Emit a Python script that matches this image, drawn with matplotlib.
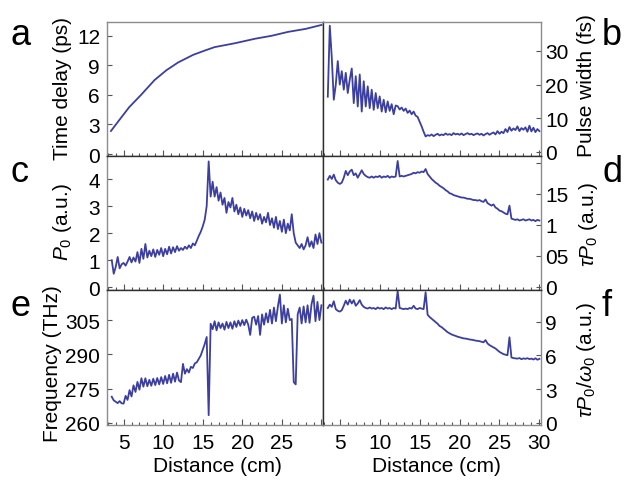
import matplotlib
matplotlib.use("Agg")
import matplotlib.pyplot as plt
from matplotlib.ticker import MultipleLocator

plt.rcParams['font.family'] = ['Liberation Sans', 'DejaVu Sans']
plt.rcParams['mathtext.fontset'] = 'custom'
plt.rcParams['mathtext.rm'] = 'Liberation Sans'
plt.rcParams['mathtext.it'] = 'Liberation Sans:italic'
plt.rcParams['mathtext.bf'] = 'Liberation Sans:bold'

# ---- data -------------------------------------------------------------
# panel a: accumulated time delay (smooth)
delay_dist = [3.4, 4.5, 5.7, 7.2, 8.9, 10.4, 11.9, 13.8, 15.25, 16.5,
              19.1, 21.6, 23.7, 25.8, 28.0, 30.0]
time_delay = [2.34, 3.5, 4.75, 6.0, 7.5, 8.5, 9.3, 10.07, 10.5, 10.85,
              11.25, 11.7, 12.0, 12.4, 12.7, 13.1]

# sampling positions (cm) shared by the measured traces
distance = [3.5, 3.75, 4.0, 4.25, 4.5, 4.75, 5.0, 5.25, 5.5, 5.75,
            6.0, 6.25, 6.5, 6.75, 7.0, 7.25, 7.5, 7.75, 8.0, 8.25,
            8.5, 8.75, 9.0, 9.25, 9.5, 9.75, 10.0, 10.25, 10.5, 10.75,
            11.0, 11.25, 11.5, 11.75, 12.0, 12.25, 12.5, 12.75, 13.0, 13.25,
            13.5, 13.75, 14.0, 14.25, 14.5, 14.75, 15.0, 15.25, 15.5, 15.75,
            16.0, 16.25, 16.5, 16.75, 17.0, 17.25, 17.5, 17.75, 18.0, 18.25,
            18.5, 18.75, 19.0, 19.25, 19.5, 19.75, 20.0, 20.25, 20.5, 20.75,
            21.0, 21.25, 21.5, 21.75, 22.0, 22.25, 22.5, 22.75, 23.0, 23.25,
            23.5, 23.75, 24.0, 24.25, 24.5, 24.75, 25.0, 25.25, 25.5, 25.75,
            26.0, 26.25, 26.5, 26.75, 27.0, 27.25, 27.5, 27.75, 28.0, 28.25,
            28.5, 28.75, 29.0, 29.25, 29.5, 29.75, 30.0]

# panel b: pulse width (fs)
pulse_width = [16.4, 37.5, 28.0, 15.5, 20.0, 27.0, 20.0, 24.0, 18.5, 23.5,
               17.5, 21.5, 24.8, 14.5, 22.5, 13.5, 23.0, 12.0, 21.0, 13.5,
               19.5, 13.0, 18.5, 12.5, 17.5, 13.0, 16.5, 12.0, 15.5, 11.8,
               15.0, 12.2, 14.2, 11.2, 13.8, 13.6, 12.6, 13.2, 12.2, 12.9,
               11.6, 12.3, 11.2, 12.0, 10.8, 10.4, 9.0, 7.6, 6.0, 4.6,
               5.0, 4.8, 5.2, 4.7, 5.1, 5.4, 4.9, 5.2, 5.0, 5.5,
               5.1, 5.3, 5.0, 5.6, 5.2, 5.4, 5.1, 5.5, 5.0, 5.3,
               5.6, 5.2, 5.4, 5.0, 5.3, 5.5, 5.1, 5.4, 4.9, 5.3,
               5.6, 5.1, 5.5, 5.8, 5.2, 6.2, 5.4, 6.0, 5.6, 6.8,
               5.9, 7.4, 6.3, 7.0, 6.5, 7.6, 6.2, 7.1, 6.6, 7.3,
               6.0, 7.8, 6.1, 7.2, 5.9, 6.8, 6.2]

# panel c: peak power P0 (a.u.)
peak_power = [1.0, 0.5, 0.75, 1.12, 0.7, 0.85, 0.9, 0.8, 0.95, 1.12,
              0.92, 1.1, 0.95, 1.3, 0.9, 1.42, 1.05, 1.6, 1.1, 1.35,
              1.15, 1.4, 1.12, 1.38, 1.2, 1.45, 1.15, 1.42, 1.22, 1.5,
              1.25, 1.48, 1.3, 1.52, 1.35, 1.45, 1.38, 1.5, 1.42, 1.55,
              1.45, 1.62, 1.55, 1.72, 1.9, 2.05, 2.25, 2.5, 3.0, 4.65,
              3.35, 3.9, 3.35, 3.7, 3.2, 3.5, 3.05, 3.3, 2.75, 3.15,
              2.95, 3.3, 2.8, 3.05, 2.7, 2.95, 2.6, 2.9, 2.65, 2.85,
              2.55, 2.8, 2.45, 2.75, 2.5, 2.7, 2.35, 2.6, 2.4, 2.75,
              2.3, 2.55, 2.2, 2.6, 2.15, 2.45, 2.05, 2.5, 2.0, 2.35,
              2.1, 2.7, 2.0, 1.65, 1.55, 1.45, 1.6, 1.4, 1.55, 1.85,
              1.5, 1.7, 1.45, 1.95, 1.6, 2.0, 1.65]

# panel d: tau * P0 (a.u.)
energy = [1.73, 1.79, 1.74, 1.81, 1.72, 1.68, 1.66, 1.68, 1.76, 1.87,
          1.80, 1.86, 1.89, 1.80, 1.83, 1.76, 1.82, 1.88, 1.82, 1.79,
          1.77, 1.76, 1.78, 1.76, 1.78, 1.77, 1.79, 1.76, 1.78, 1.77,
          1.79, 1.76, 1.78, 1.77, 1.78, 2.03, 1.78, 1.79, 1.78, 1.79,
          1.80, 1.81, 1.82, 1.84, 1.83, 1.85, 1.84, 1.86, 1.85, 1.90,
          1.82, 1.78, 1.74, 1.71, 1.68, 1.66, 1.63, 1.61, 1.59, 1.56,
          1.54, 1.51, 1.50, 1.48, 1.47, 1.46, 1.45, 1.44, 1.44, 1.43,
          1.42, 1.42, 1.41, 1.40, 1.40, 1.39, 1.40, 1.38, 1.37, 1.41,
          1.35, 1.33, 1.31, 1.33, 1.28, 1.26, 1.23, 1.22, 1.20, 1.18,
          1.17, 1.31, 1.10, 1.09, 1.08, 1.09, 1.07, 1.08, 1.09, 1.07,
          1.08, 1.09, 1.07, 1.08, 1.06, 1.08, 1.07]

# panel e: central frequency (THz)
frequency = [271.4, 269.8, 269.2, 268.6, 269.5, 268.5, 268.4, 271.8, 270.0, 274.3,
             271.5, 276.4, 273.5, 277.9, 274.5, 279.5, 275.8, 279.5, 276.0, 278.8,
             276.2, 279.3, 276.5, 279.6, 276.8, 280.0, 277.0, 280.5, 277.3, 281.0,
             277.5, 281.5, 278.0, 282.0, 278.5, 277.8, 285.8, 281.5, 283.5, 282.0,
             284.5, 284.0, 286.0, 286.5, 288.0, 289.5, 292.0, 294.5, 297.6, 263.3,
             303.4, 301.0, 304.5, 300.5, 304.0, 301.5, 303.5, 300.8, 304.2, 301.5,
             304.0, 301.2, 304.5, 302.0, 304.8, 302.5, 305.0, 302.8, 305.2, 303.0,
             298.5, 306.0, 306.5, 303.0, 306.8, 298.5, 307.5, 303.0, 308.0, 304.0,
             309.5, 303.5, 310.5, 304.5, 311.0, 316.2, 303.5, 311.5, 304.0, 310.0,
             305.0, 305.5, 277.8, 276.8, 307.5, 310.5, 303.5, 311.0, 304.0, 311.5,
             303.8, 312.0, 315.7, 304.5, 313.0, 305.0, 311.5]

# panel f: tau * P0 / omega0 (a.u.)
photons = [10.2, 10.5, 10.3, 10.8, 10.1, 9.95, 9.88, 10.0, 10.4, 10.85,
           10.5, 10.95, 10.6, 10.9, 10.4, 10.6, 10.9, 10.5, 10.3, 10.2,
           10.15, 10.25, 10.15, 10.2, 10.1, 10.25, 10.15, 10.2, 10.1, 10.25,
           10.15, 10.2, 10.1, 10.2, 10.15, 11.7, 10.2, 10.15, 10.1, 10.15,
           10.1, 10.2, 10.15, 10.4, 10.15, 10.1, 10.2, 10.15, 10.1, 11.6,
           9.6, 9.4, 9.25, 9.1, 8.95, 8.8, 8.6, 8.5, 8.35, 8.2,
           8.05, 7.95, 7.85, 7.78, 7.72, 7.65, 7.6, 7.55, 7.5, 7.48,
           7.45, 7.4, 7.38, 7.35, 7.3, 7.28, 7.25, 7.2, 7.15, 7.35,
           7.05, 6.9, 6.8, 6.7, 6.6, 6.45, 6.3, 6.2, 6.1, 6.05,
           6.0, 7.6, 5.8, 5.75, 5.72, 5.7, 5.75, 5.65, 5.72, 5.68,
           5.74, 5.66, 5.7, 5.62, 5.73, 5.6, 5.68]

# tick settings
a_ticks = [0, 3, 6, 9, 12]
b_ticks = [0, 10, 20, 30]
c_ticks = [0, 1, 2, 3, 4]
d_ticks = [0, 0.5, 1, 1.5, 2]
d_ticklabels = ['0', '05', '1', '15', '']
e_ticks = [260, 275, 290, 305]
f_ticks = [0, 3, 6, 9]
x_ticks = [5, 10, 15, 20, 25, 30]
left_x_labels = ['5', '10', '15', '20', '25', '']
right_x_labels = ['5', '10', '15', '20', '25', '30']

# ---- figure ----------------------------------------------------------
W, H = 626, 481
fig = plt.figure(figsize=(W / 100, H / 100), dpi=100)

LINE = '#3c3f9e'
OUTER = '#8c8c8c'
INNER = '#2e2e2e'
FS = 15
LW = 1.3


def px_axes(x0, x1, y0, y1):
    return fig.add_axes([x0 / W, 1 - y1 / H, (x1 - x0) / W, (y1 - y0) / H])


rows = [(23, 157), (157, 291), (291, 426)]
left_axes = [px_axes(107, 323, *r) for r in rows]
right_axes = [px_axes(323, 541, *r) for r in rows]

for i, ax in enumerate(left_axes + right_axes):
    ax.set_xlim(2.9, 30.2)
    ax.xaxis.set_major_locator(MultipleLocator(5))
    ax.xaxis.set_minor_locator(MultipleLocator(1))
    ax.tick_params(axis='both', which='both', direction='in', colors='#555555',
                   labelcolor='black', labelsize=FS, width=0.8)
    ax.tick_params(axis='x', which='major', length=4.5, pad=6)
    ax.tick_params(axis='x', which='minor', length=2.5)
    ax.tick_params(axis='y', which='major', length=3.5)
    for s in ax.spines.values():
        s.set_color(OUTER)
        s.set_linewidth(1.0)

# inner dividers
for r in range(3):
    left_axes[r].spines['right'].set_color(INNER)
    right_axes[r].spines['left'].set_color(INNER)
for r in range(2):
    for ax in (left_axes[r], right_axes[r]):
        ax.spines['bottom'].set_color(INNER)
    for ax in (left_axes[r + 1], right_axes[r + 1]):
        ax.spines['top'].set_color(INNER)

ax_a, ax_c, ax_e = left_axes
ax_b, ax_d, ax_f = right_axes

ax_a.plot(delay_dist, time_delay, color=LINE, lw=LW)
ax_b.plot(distance, pulse_width, color=LINE, lw=LW)
ax_c.plot(distance, peak_power, color=LINE, lw=LW)
ax_d.plot(distance, energy, color=LINE, lw=LW)
ax_e.plot(distance, frequency, color=LINE, lw=LW)
ax_f.plot(distance, photons, color=LINE, lw=LW)

ax_a.set_ylim(-0.2, 13.4)
ax_a.set_yticks(a_ticks)
ax_c.set_ylim(-0.1, 4.85)
ax_c.set_yticks(c_ticks)
ax_e.set_ylim(259.0, 318.2)
ax_e.set_yticks(e_ticks)

ax_b.set_ylim(-1.2, 38.6)
ax_b.set_yticks(b_ticks)
ax_d.set_ylim(-0.05, 2.11)
ax_d.set_yticks(d_ticks)
ax_d.set_yticklabels(d_ticklabels)
ax_f.set_ylim(-0.2, 11.8)
ax_f.set_yticks(f_ticks)

for ax in right_axes:
    ax.yaxis.tick_right()
    ax.tick_params(axis='y', which='both', direction='in', pad=3,
                   left=False, right=True)
for ax in left_axes:
    ax.tick_params(axis='y', pad=5)

for ax in (ax_a, ax_c, ax_b, ax_d):
    ax.tick_params(axis='x', labelbottom=False)
ax_e.set_xticks(x_ticks)
ax_e.set_xticklabels(left_x_labels)
ax_f.set_xticks(x_ticks)
ax_f.set_xticklabels(right_x_labels)


# axis labels
def fig_label(x, y, text, **kw):
    fig.text(x / W, 1 - y / H, text, fontsize=FS, ha='center', va='center', **kw)


fig_label(62, 88, 'Time delay (ps)', rotation=90)
fig_label(62, 222, r'$P_0$ (a.u.)', rotation=90)
fig_label(53, 364, 'Frequency (THz)', rotation=90)
fig_label(587, 86, 'Pulse width (fs)', rotation=90)
fig_label(588, 224, r'$\tau P_0$ (a.u.)', rotation=90)
fig_label(587, 360, r'$\tau P_0/\omega_0$ (a.u.)', rotation=90)
fig_label(217, 467, 'Distance (cm)')
fig_label(436, 467, 'Distance (cm)')

# panel letters
for letter, x, y in [('a', 11, 45), ('b', 602, 45), ('c', 11, 182),
                     ('d', 602, 182), ('e', 11, 316), ('f', 602, 316)]:
    fig.text(x / W, 1 - y / H, letter, fontsize=26, ha='left', va='baseline')

fig.savefig('out.png', dpi=100, facecolor='white')
